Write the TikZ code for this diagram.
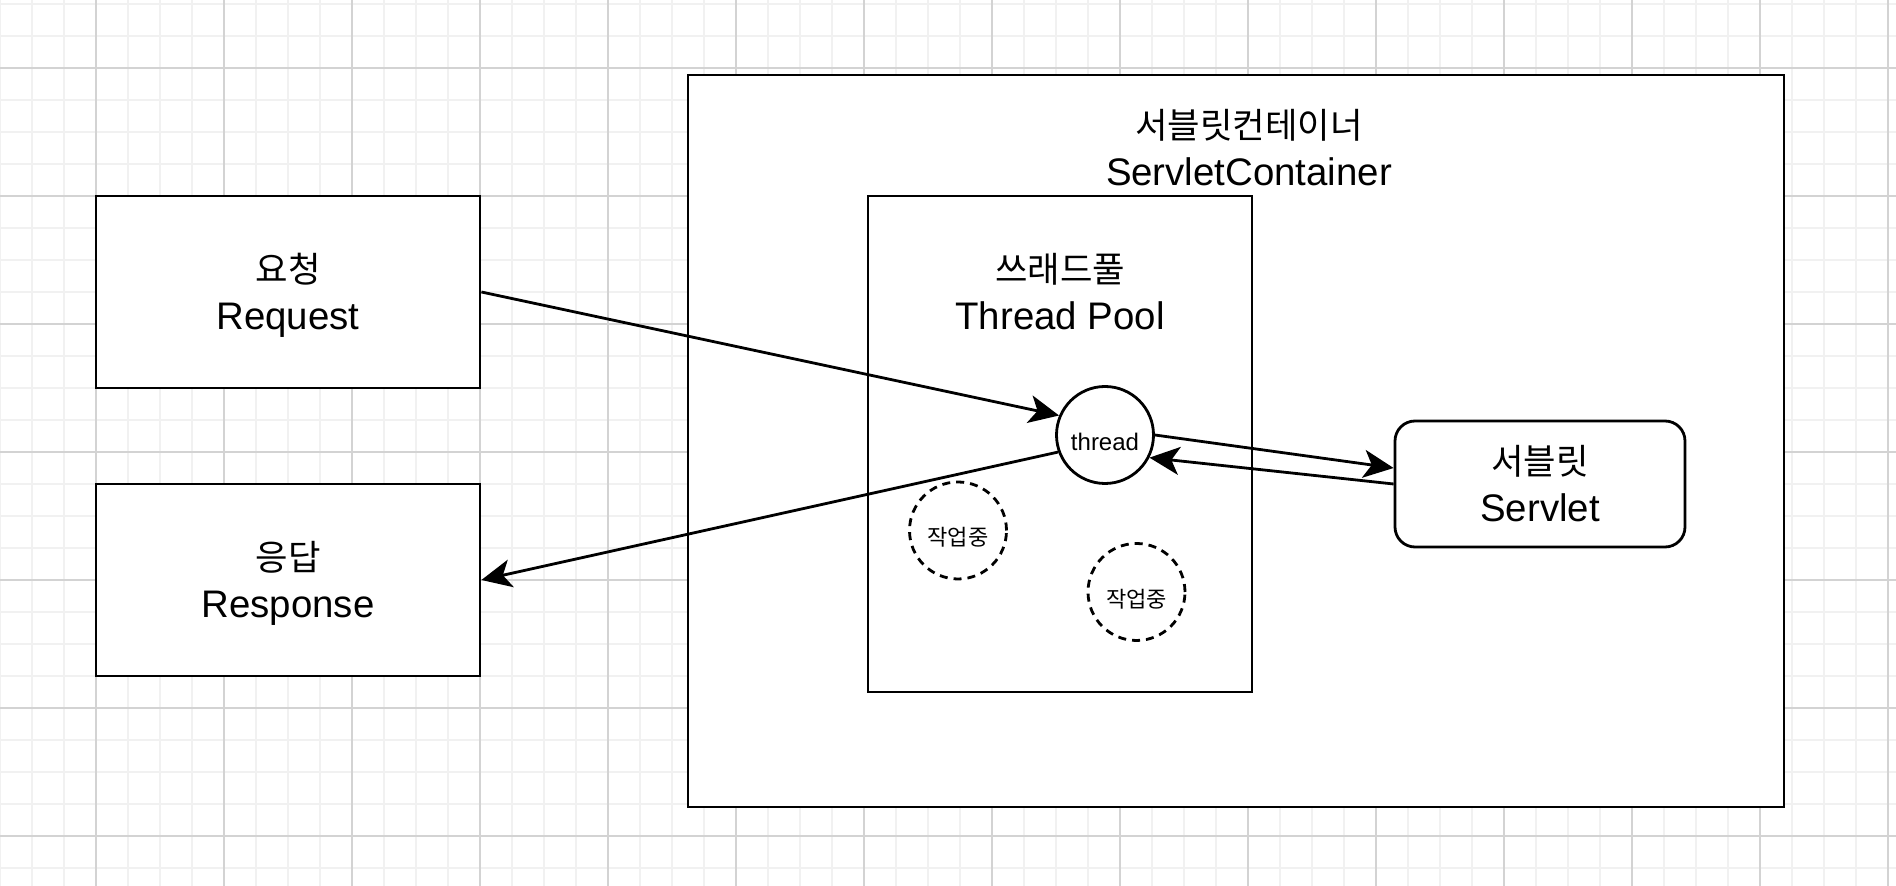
\documentclass[tikz,border=0pt]{standalone}
\usepackage{fontspec}
\setmainfont{Liberation Sans}
\newfontfamily\kr[Scale=0.92]{Noto Sans CJK KR}
\usetikzlibrary{arrows.meta}
\newcommand\lnstrut{\rule[-4.5pt]{0pt}{22.8pt}}
\definecolor{gridminor}{HTML}{F1F1F1}
\definecolor{gridmajor}{HTML}{D3D3D3}
\begin{document}
\begin{tikzpicture}[x=0.5pt,y=-0.5pt,
  shape box/.style={draw, line width=1.4pt, fill=white, inner sep=0pt},
  bigtext/.style={font=\fontsize{19.2pt}{23.5pt}\selectfont, align=center},
  smalltext/.style={font=\fontsize{12pt}{14pt}\selectfont, text height=15.5pt, text depth=0pt},
  worker/.style={shape box, circle, minimum size=48.5pt, smalltext},
  busy/.style={worker, dash pattern=on 4pt off 3pt},
  conn/.style={line width=1.4pt, -{Stealth[length=15pt,width=14pt,inset=4pt]}},
  gminor/.style={draw=gridminor, line width=0.8pt},
  gmajor/.style={draw=gridmajor, line width=0.8pt}]
\useasboundingbox (0,0) rectangle (1896,886);
\fill[white] (0,0) rectangle (1896,886);
% grid
\foreach \x in {0,32,...,1888} \draw[gminor] (\x,0) -- (\x,886);
\foreach \y in {4,36,...,868} \draw[gminor] (0,\y) -- (1896,\y);
\foreach \x in {96,224,...,1888} \draw[gmajor] (\x,0) -- (\x,886);
\foreach \y in {68,196,...,836} \draw[gmajor] (0,\y) -- (1896,\y);
% containers
\node[shape box, minimum width=548pt, minimum height=366pt] (container) at (1236,441) {};
\node[bigtext] (containerlabel) at (1249,148) {\lnstrut{\kr 서블릿컨테이너}\\\lnstrut ServletContainer};
\node[shape box, minimum width=192pt, minimum height=248pt] (pool) at (1060,444) {};
\node[bigtext] (poollabel) at (1060,292.6) {\lnstrut{\kr 쓰래드풀}\\\lnstrut Thread Pool};
% outer boxes
\node[shape box, bigtext, minimum width=192pt, minimum height=96pt] (req) at (288,292) {\lnstrut{\kr 요청}\\\lnstrut Request};
\node[shape box, bigtext, minimum width=192pt, minimum height=96pt] (resp) at (288,580) {\lnstrut{\kr 응답}\\\lnstrut Response};
\node[shape box, bigtext, rounded corners=10pt, minimum width=145pt, minimum height=63pt] (servlet) at (1540,484) {\lnstrut{\kr 서블릿}\\\lnstrut Servlet};
% threads
\node[worker] (thread) at (1105,435) {thread};
\node[busy] (busy1) at (958,530.5) {\kr 작업중};
\node[busy] (busy2) at (1136.5,592) {\kr 작업중};
% connectors
\draw[conn] (req.east) -- (thread.157);
\draw[conn] (thread.200) -- (resp.east);
\draw[conn] (thread.east) -- ([yshift=8pt]servlet.west);
\draw[conn] (servlet.west) -- (thread.-27);
\end{tikzpicture}
\end{document}
